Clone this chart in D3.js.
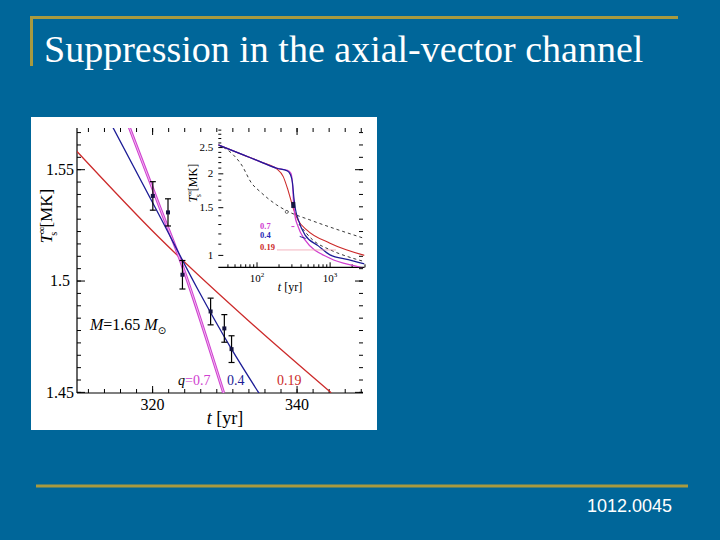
<!DOCTYPE html>
<html><head><meta charset="utf-8">
<script src="https://cdn.jsdelivr.net/npm/d3@7"></script>
<style>html,body{margin:0;padding:0;background:#006699;} svg{display:block}</style>
</head><body><svg id="c" width="720" height="540"></svg>
<script>
// ---------- data ----------
const titleText = "Suppression in the axial-vector channel";
const refText = "1012.0045";

// observations (main panel): age t [yr], T [MK], error
const obsAge = [320.1, 322.2, 324.2, 328.1, 330.0, 331.0];
const obsTemp = [1.538, 1.5306, 1.5026, 1.4861, 1.4785, 1.4692];
const obsErr = [0.0064, 0.0061, 0.0064, 0.006, 0.0062, 0.006];

// main-panel model curves
const redAge = [309.5, 321.0, 333.5, 344.8];
const redTemp = [1.5583, 1.5192, 1.4815, 1.4496];
const blueAge = [314.5, 320.9, 326.3, 331.0, 334.8];
const blueTemp = [1.5692, 1.5299, 1.4962, 1.4692, 1.4494];
const magAge = [316.8, 321.2, 323.8, 328.9, 329.9];
const magTemp = [1.5692, 1.5318, 1.5101, 1.4599, 1.4496];

const mainXMajor = [320, 340];
const mainYMajor = [1.45, 1.5, 1.55];
const curveLabels = ["0.7", "0.4", "0.19"];

// inset curves (log-log)
const inBlueAge = [30, 66, 112, 189, 265, 290, 310, 325, 340, 373, 460, 700, 1011, 1800, 3000];
const inBlueTemp = [2.546, 2.339, 2.209, 2.089, 2.04, 1.98, 1.85, 1.62, 1.48, 1.346, 1.185, 1.08, 1.0, 0.96, 0.926];
const inMagAge = [30, 66, 112, 189, 265, 295, 312, 322, 335, 363, 460, 1011, 2500, 3000];
const inMagTemp = [2.546, 2.339, 2.209, 2.089, 2.05, 2.0, 1.80, 1.55, 1.40, 1.29, 1.136, 0.972, 0.903, 0.89];
const inRedAge = [30, 66, 112, 189, 232, 269, 318, 369, 485, 1011, 3000];
const inRedTemp = [2.546, 2.339, 2.209, 2.076, 1.945, 1.737, 1.487, 1.346, 1.237, 1.105, 0.996];
const inDashAge = [30, 45.6, 62.5, 85.8, 111.6, 188.8, 272, 538, 3000];
const inDashTemp = [2.546, 2.373, 2.148, 1.838, 1.713, 1.529, 1.445, 1.346, 1.15];
const inDash2Age = [380, 600, 1011, 2000, 3000];
const inDash2Temp = [1.30, 1.13, 1.045, 0.975, 0.945];
const inObsAge = [318];
const inObsTemp = [1.529];
const inObsErr = [0.035];
const inCircleAge = [259];
const inCircleTemp = [1.441];
const inYMajor = [1, 1.5, 2, 2.5];
const inXMajor = [100, 1000];
const inLabelTemp = [1.278, 1.184, 1.069];

// ---------- drawing ----------
const svg = d3.select("#c");
const gold = "#a89a3f";
const cRed = "#cc2a2a", cBlue = "#1c1c96", cMag = "#d040d0";
const serif = "'Liberation Serif', 'Times New Roman', serif";

svg.append("rect").attr("width", 720).attr("height", 540).attr("fill", "#006699");
svg.append("line").attr("x1", 30).attr("x2", 678).attr("y1", 17.5).attr("y2", 17.5).attr("stroke", gold).attr("stroke-width", 3);
svg.append("line").attr("x1", 31.5).attr("x2", 31.5).attr("y1", 16).attr("y2", 66).attr("stroke", gold).attr("stroke-width", 3);
svg.append("line").attr("x1", 36).attr("x2", 688).attr("y1", 486).attr("y2", 486).attr("stroke", gold).attr("stroke-width", 3);
svg.append("text").attr("x", 44).attr("y", 62).attr("fill", "#fff").attr("font-family", serif).attr("font-size", 38).text(titleText);
svg.append("text").attr("x", 672).attr("y", 512).attr("text-anchor", "end").attr("fill", "#fff")
  .attr("font-family", "'Liberation Sans', Arial, sans-serif").attr("font-size", 18).text(refText);

// white figure box
svg.append("rect").attr("x", 31).attr("y", 117).attr("width", 346).attr("height", 313).attr("fill", "#fff");

// main scales
const xM = d3.scaleLinear().domain([309.6, 349.2]).range([77, 363]);
const yM = d3.scaleLinear().domain([1.4495, 1.5685]).range([393, 128]);

const defs = svg.append("defs");
defs.append("clipPath").attr("id", "clipM").append("rect").attr("x", 77).attr("y", 128).attr("width", 286).attr("height", 265);

const xStep = 20 / 9, yStep = 0.05 / 9;
const xMinor = d3.range(320 - 5 * xStep, 349.2, xStep).filter(v => v > 309.6);
const yMinor = d3.range(1.45, 1.5685, yStep);

function styleTicks(g) { g.selectAll("line").attr("stroke", "#000"); g.selectAll(".domain").remove(); }

// bottom
const gB = svg.append("g").attr("transform", "translate(0,393)");
gB.call(d3.axisBottom(xM).tickValues(xMinor).tickSize(-4).tickFormat("")).call(styleTicks);
const gBM = svg.append("g").attr("transform", "translate(0,393)");
gBM.call(d3.axisBottom(xM).tickValues(mainXMajor).tickSize(-7).tickPadding(6).tickFormat(d3.format("d"))).call(styleTicks);
gBM.selectAll("text").attr("font-family", serif).attr("font-size", 16).attr("fill", "#000").attr("dy", "0.71em");
// top
svg.append("g").attr("transform", "translate(0,128)")
  .call(d3.axisTop(xM).tickValues(xMinor).tickSize(-4).tickFormat("")).call(styleTicks);
svg.append("g").attr("transform", "translate(0,128)")
  .call(d3.axisTop(xM).tickValues(mainXMajor).tickSize(-7).tickFormat("")).call(styleTicks);
// left
svg.append("g").attr("transform", "translate(77,0)")
  .call(d3.axisLeft(yM).tickValues(yMinor).tickSize(-4).tickFormat("")).call(styleTicks);
const gLM = svg.append("g").attr("transform", "translate(77,0)");
gLM.call(d3.axisLeft(yM).tickValues(mainYMajor).tickSize(-8).tickFormat(d => d === 1.5 ? "1.5" : d3.format(".2f")(d))).call(styleTicks);
gLM.selectAll("text").attr("font-family", serif).attr("font-size", 16).attr("fill", "#000").attr("text-anchor", "middle").attr("x", -17);
// right
svg.append("g").attr("transform", "translate(363,0)")
  .call(d3.axisRight(yM).tickValues(yMinor).tickSize(-4).tickFormat("")).call(styleTicks);
svg.append("g").attr("transform", "translate(363,0)")
  .call(d3.axisRight(yM).tickValues(mainYMajor).tickSize(-8).tickFormat("")).call(styleTicks);
// axis lines
svg.append("line").attr("x1", 77).attr("x2", 77).attr("y1", 128).attr("y2", 393).attr("stroke", "#000").attr("stroke-width", 1.2);
svg.append("line").attr("x1", 77).attr("x2", 363).attr("y1", 393).attr("y2", 393).attr("stroke", "#000").attr("stroke-width", 1.2);

// main curves
const lineM = d3.line().x(d => xM(d[0])).y(d => yM(d[1])).curve(d3.curveMonotoneX);
const gCurves = svg.append("g").attr("clip-path", "url(#clipM)");
gCurves.append("path").datum(d3.zip(redAge, redTemp)).attr("d", lineM).attr("fill", "none").attr("stroke", cRed).attr("stroke-width", 1.3);
gCurves.append("path").datum(d3.zip(magAge, magTemp)).attr("d", lineM).attr("fill", "none").attr("stroke", cMag).attr("stroke-width", 3);
gCurves.append("path").datum(d3.zip(magAge, magTemp)).attr("d", lineM).attr("fill", "none").attr("stroke", "#f0b8f0").attr("stroke-width", 1);
gCurves.append("path").datum(d3.zip(blueAge, blueTemp)).attr("d", lineM).attr("fill", "none").attr("stroke", cBlue).attr("stroke-width", 1.3);

// observations
const obs = d3.zip(obsAge, obsTemp, obsErr);
const gObs = svg.append("g");
gObs.selectAll(".eb").data(obs).join("line").attr("x1", d => xM(d[0])).attr("x2", d => xM(d[0]))
  .attr("y1", d => yM(d[1] + d[2])).attr("y2", d => yM(d[1] - d[2])).attr("stroke", "#000").attr("stroke-width", 1.2);
gObs.selectAll(".c1").data(obs).join("line").attr("x1", d => xM(d[0]) - 3).attr("x2", d => xM(d[0]) + 3)
  .attr("y1", d => yM(d[1] + d[2])).attr("y2", d => yM(d[1] + d[2])).attr("stroke", "#000").attr("stroke-width", 1.2);
gObs.selectAll(".c2").data(obs).join("line").attr("x1", d => xM(d[0]) - 3).attr("x2", d => xM(d[0]) + 3)
  .attr("y1", d => yM(d[1] - d[2])).attr("y2", d => yM(d[1] - d[2])).attr("stroke", "#000").attr("stroke-width", 1.2);
gObs.selectAll("rect").data(obs).join("rect").attr("x", d => xM(d[0]) - 2).attr("y", d => yM(d[1]) - 2)
  .attr("width", 4).attr("height", 4).attr("fill", "#141440");

// main texts
const tM = svg.append("text").attr("x", 90).attr("y", 330).attr("font-family", serif).attr("font-size", 16).attr("fill", "#000");
tM.append("tspan").attr("font-style", "italic").text("M");
tM.append("tspan").text("=1.65 ");
tM.append("tspan").attr("font-style", "italic").text("M");
tM.append("tspan").attr("font-size", 10).attr("dy", 4).attr("font-family", "'DejaVu Sans', sans-serif").text("⊙");

const tq = svg.append("text").attr("x", 178).attr("y", 385).attr("font-family", serif).attr("font-size", 14);
tq.append("tspan").attr("font-style", "italic").attr("fill", "#000").text("q");
tq.append("tspan").attr("fill", cMag).text("=" + curveLabels[0]);
svg.append("text").attr("x", 227).attr("y", 385).attr("font-family", serif).attr("font-size", 14).attr("fill", cBlue).text(curveLabels[1]);
svg.append("text").attr("x", 277).attr("y", 385).attr("font-family", serif).attr("font-size", 14).attr("fill", cRed).text(curveLabels[2]);

const tx = svg.append("text").attr("x", 225).attr("y", 424).attr("text-anchor", "middle").attr("font-family", serif).attr("font-size", 18);
tx.append("tspan").attr("font-style", "italic").text("t");
tx.append("tspan").text(" [yr]");

function yTitle(x, y, fs) {
  const t = svg.append("text").attr("transform", `translate(${x},${y}) rotate(-90)`).attr("text-anchor", "middle")
    .attr("font-family", serif).attr("font-size", fs).attr("fill", "#000");
  t.append("tspan").attr("font-style", "italic").text("T");
  t.append("tspan").attr("font-size", fs * 0.6).attr("dy", -fs * 0.4).text("∞");
  t.append("tspan").attr("font-size", fs * 0.6).attr("dx", -fs * 0.55).attr("dy", fs * 0.7).text("s");
  t.append("tspan").attr("dy", -fs * 0.3).text(" [MK]");
}
yTitle(52, 216, 17);

// ---------- inset ----------
const xI = d3.scaleLog().domain([30, 3000]).range([218.3, 364.5]);
const yI = d3.scaleLog().domain([0.9, 2.95]).range([267.3, 127.6]);
defs.append("clipPath").attr("id", "clipI").append("rect").attr("x", 218.3).attr("y", 127.6).attr("width", 146.2).attr("height", 139.7);

const inXMinor = [40, 50, 60, 70, 80, 90, 200, 300, 400, 500, 600, 700, 800, 900, 2000, 3000];
const inYMinor = d3.range(10, 30).map(v => v / 10).filter(v => !inYMajor.includes(v));

const gIB = svg.append("g").attr("transform", "translate(0,267.3)");
gIB.call(d3.axisBottom(xI).tickValues(inXMinor).tickSize(-3).tickFormat("")).call(styleTicks);
const gIBM = svg.append("g").attr("transform", "translate(0,267.3)");
gIBM.call(d3.axisBottom(xI).tickValues(inXMajor).tickSize(-5).tickFormat("")).call(styleTicks);
svg.append("line").attr("x1", 218.3).attr("x2", 364.5).attr("y1", 267.3).attr("y2", 267.3).attr("stroke", "#000").attr("stroke-width", 1.2);
gIBM.selectAll(".tick").append("text").attr("y", 15).attr("text-anchor", "middle").attr("font-family", serif).attr("font-size", 11).attr("fill", "#000")
  .each(function(d) {
    const s = d3.select(this);
    s.append("tspan").text("10");
    s.append("tspan").attr("font-size", 7).attr("dy", -5).text(Math.round(Math.log10(d)));
  });

svg.append("g").attr("transform", "translate(218.3,0)")
  .call(d3.axisLeft(yI).tickValues(inYMinor).tickSize(-3).tickFormat("")).call(styleTicks);
const gILM = svg.append("g").attr("transform", "translate(218.3,0)");
gILM.call(d3.axisLeft(yI).tickValues(inYMajor).tickSize(-5).tickPadding(5).tickFormat(d => String(d))).call(styleTicks);
gILM.selectAll("text").attr("font-family", serif).attr("font-size", 11).attr("fill", "#000");

const lineI = d3.line().x(d => xI(d[0])).y(d => yI(d[1])).curve(d3.curveMonotoneX);
const gIn = svg.append("g").attr("clip-path", "url(#clipI)");
gIn.append("path").datum(d3.zip(inDashAge, inDashTemp)).attr("d", lineI).attr("fill", "none").attr("stroke", "#222").attr("stroke-width", 0.9).attr("stroke-dasharray", "3,3");
gIn.append("path").datum(d3.zip(inDash2Age, inDash2Temp)).attr("d", lineI).attr("fill", "none").attr("stroke", "#222").attr("stroke-width", 0.9).attr("stroke-dasharray", "3,3");
gIn.append("path").datum(d3.zip(inRedAge, inRedTemp)).attr("d", lineI).attr("fill", "none").attr("stroke", cRed).attr("stroke-width", 1.1);
gIn.append("path").datum(d3.zip(inMagAge, inMagTemp)).attr("d", lineI).attr("fill", "none").attr("stroke", cMag).attr("stroke-width", 1.3);
gIn.append("path").datum(d3.zip(inBlueAge, inBlueTemp)).attr("d", lineI).attr("fill", "none").attr("stroke", cBlue).attr("stroke-width", 1.2);

// inset observation and marker
const inObs = d3.zip(inObsAge, inObsTemp, inObsErr);
gIn.selectAll(".ie").data(inObs).join("line").attr("x1", d => xI(d[0])).attr("x2", d => xI(d[0]))
  .attr("y1", d => yI(d[1] + d[2])).attr("y2", d => yI(d[1] - d[2])).attr("stroke", "#000").attr("stroke-width", 1);
gIn.selectAll(".ir").data(inObs).join("rect").attr("x", d => xI(d[0]) - 2).attr("y", d => yI(d[1]) - 3)
  .attr("width", 4).attr("height", 6).attr("fill", "#141440");
gIn.selectAll("circle").data(d3.zip(inCircleAge, inCircleTemp)).join("circle")
  .attr("cx", d => xI(d[0])).attr("cy", d => yI(d[1])).attr("r", 1.5).attr("fill", "#fff").attr("stroke", "#333").attr("stroke-width", 0.7);

// inset labels
const inLab = d3.zip(curveLabels, inLabelTemp, [cMag, "#2a2ab8", cRed]);
svg.selectAll(".inlab").data(inLab).join("text").attr("x", 260).attr("y", d => yI(d[1]) + 3)
  .attr("font-family", serif).attr("font-size", 8.5).attr("font-weight", "bold").attr("fill", d => d[2]).text(d => d[0]);
svg.append("line").attr("x1", 277).attr("x2", xI(1223)).attr("y1", yI(1.043)).attr("y2", yI(1.043)).attr("stroke", "#f0a0b0").attr("stroke-width", 0.8);
svg.append("line").attr("x1", xI(300)).attr("x2", xI(330)).attr("y1", yI(1.272)).attr("y2", yI(1.272)).attr("stroke", cMag).attr("stroke-width", 1);
svg.append("line").attr("x1", xI(390)).attr("x2", xI(470)).attr("y1", yI(1.17)).attr("y2", yI(1.15)).attr("stroke", cBlue).attr("stroke-width", 1);

const tIx = svg.append("text").attr("x", 290).attr("y", 291).attr("text-anchor", "middle").attr("font-family", serif).attr("font-size", 12);
tIx.append("tspan").attr("font-style", "italic").text("t");
tIx.append("tspan").text(" [yr]");
yTitle(197, 183, 12);
</script></body></html>
